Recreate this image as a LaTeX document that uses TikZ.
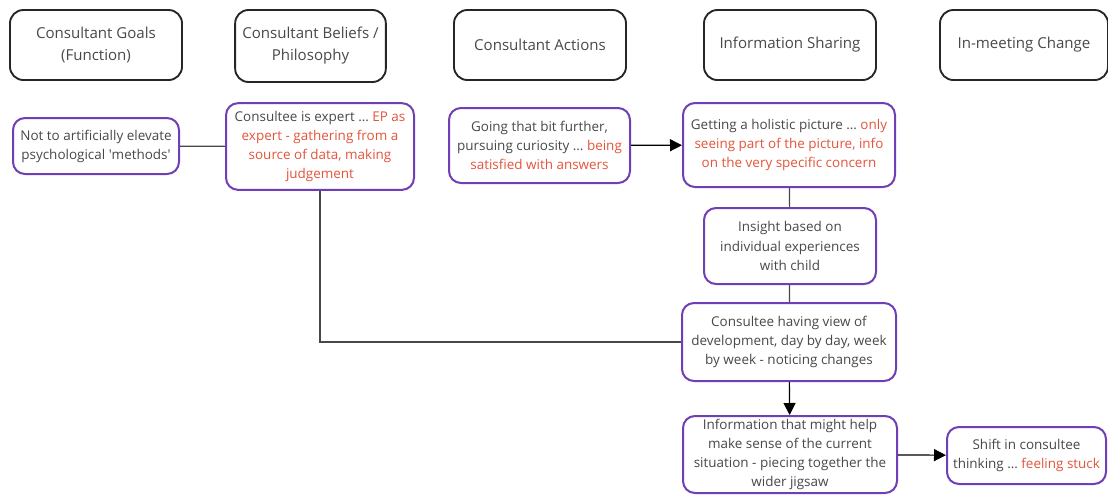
\documentclass[tikz,border=0pt]{standalone}
\usepackage{fontspec}
\setmainfont{Open Sans}
\usetikzlibrary{arrows.meta}
\definecolor{inkgrey}{RGB}{72,72,72}
\definecolor{hilite}{RGB}{228,84,58}
\definecolor{cardline}{RGB}{112,62,182}
\newcommand{\hl}[1]{\textcolor{hilite}{#1}}
\begin{document}
\begin{tikzpicture}[x=0.75pt,y=-0.75pt,
  font=\fontsize{10.1}{14.3}\selectfont,
  header/.style={draw=black!85,line width=1.4pt,rounded corners=10pt,text=inkgrey,align=center,minimum width=129pt,minimum height=52.5pt,font=\fontsize{11.3}{16.5}\selectfont},
  card/.style={draw=cardline,line width=1.5pt,rounded corners=9pt,text=inkgrey,align=center,fill=white,inner sep=2pt},
  link/.style={draw=inkgrey,line width=0.9pt},
  push/.style={link,-{Triangle[width=9pt,length=9pt]},draw=black}]
\useasboundingbox (0,0) rectangle (1108,494);

% column heads
\node[header] (goals) at (96,45) {Consultant Goals\\(Function)};
\node[header,minimum width=113pt,minimum height=54pt] (beliefs) at (310.5,46) {Consultant Beliefs /\\Philosophy};
\node[header] (actions) at (540,45) {Consultant Actions};
\node[header] (sharing) at (790,45) {Information Sharing};
\node[header,minimum width=126pt] (change) at (1024,45) {In-meeting Change};

% cards
\node[card,minimum width=124.5pt,minimum height=42pt] (elevate) at (96,146) {Not to artificially elevate\\psychological \textquotesingle methods\textquotesingle};
\node[card,minimum width=141pt,minimum height=65pt] (expert) at (320,146.5) {Consultee is expert … \hl{EP as}\\\hl{expert - gathering from a}\\\hl{source of data, making}\\\hl{judgement}};
\node[card,minimum width=135.75pt,minimum height=56.25pt] (further) at (539.5,145.5) {Going that bit further,\\pursuing curiosity … \hl{being}\\\hl{satisfied with answers}};
\node[card,minimum width=159pt,minimum height=63pt] (holistic) at (789,145) {Getting a holistic picture … \hl{only}\\\hl{seeing part of the picture, info}\\\hl{on the very specific concern}};
\node[card,minimum width=129pt,minimum height=57pt] (insight) at (790,246) {Insight based on\\individual experiences\\with child};
\node[card,minimum width=160.5pt,minimum height=58.5pt] (view) at (789,342) {Consultee having view of\\development, day by day, week\\by week - noticing changes};
\node[card,minimum width=160.5pt,minimum height=57.75pt] (jigsaw) at (790,454.5) {Information that might help\\make sense of the current\\situation - piecing together the\\wider jigsaw};
\node[card,minimum width=119.25pt,minimum height=42.75pt] (shift) at (1026.5,455.5) {Shift in consultee\\thinking … \hl{feeling stuck}};

% connectors
\draw[link] (elevate) -- (expert);
\draw[push] (further) -- (holistic);
\draw[link] (holistic) -- (insight);
\draw[link] (insight) -- (view);
\draw[link] (expert.south) |- (view.west);
\draw[push] (view) -- (jigsaw);
\draw[push] (jigsaw) -- (shift);

\end{tikzpicture}
\end{document}
